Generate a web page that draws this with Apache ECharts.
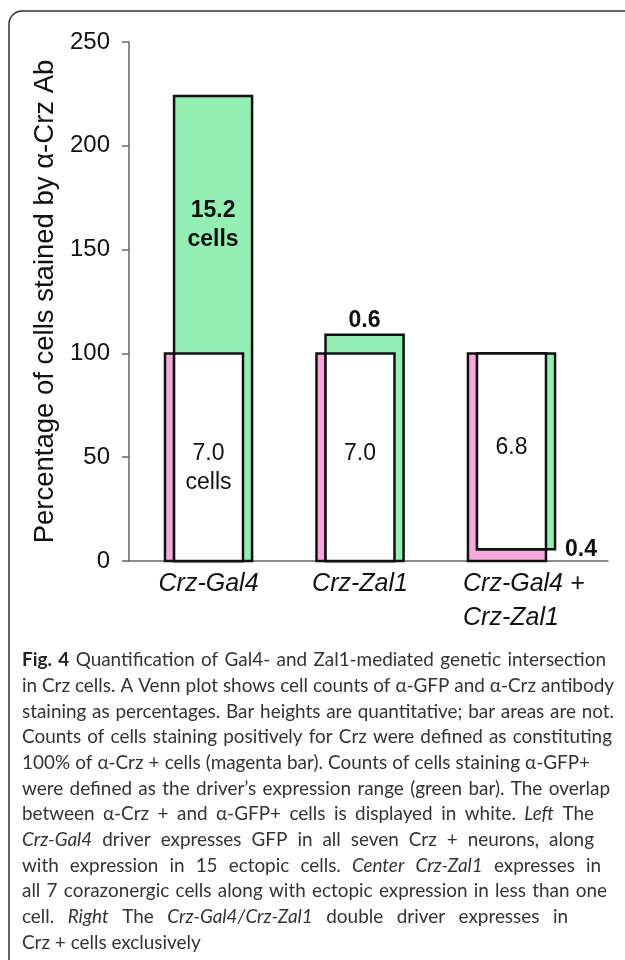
<!DOCTYPE html>
<html>
<head>
<meta charset="utf-8">
<title>Fig. 4</title>
<script src="https://cdn.jsdelivr.net/npm/echarts@6/dist/echarts.min.js"></script>
<style>
    html, body { margin: 0; padding: 0; background: #fff; }
    #chart { width: 625px; height: 960px; }
</style>
</head>
<body>
<div id="chart"></div>
<script>
    'use strict';

    // 数据
    var categories = ['Crz-Gal4', 'Crz-Zal1', 'Crz-Gal4 +\nCrz-Zal1'];
    var crzLow = [0, 0, 0];           // magenta bar (α-Crz+)
    var crzHigh = [100, 100, 100];
    var gfpLow = [0, 0, 5.7];         // green bar (α-GFP+)
    var gfpHigh = [224, 109, 100];
    var overlapText = ['7.0\ncells', '7.0', '6.8'];
    var extraText = ['15.2\ncells', '0.6', '0.4'];
    var yTicks = [0, 50, 100, 150, 200, 250];

    // caption, one entry per printed line ({b|..} bold, {i|..} italic)
    var captionLines = [
        '{b|Fig. 4} Quantification of Gal4- and Zal1-mediated genetic intersection',
        'in Crz cells. A Venn plot shows cell counts of α-GFP and α-Crz antibody',
        'staining as percentages. Bar heights are quantitative; bar areas are not.',
        'Counts of cells staining positively for Crz were defined as constituting',
        '100% of α-Crz + cells (magenta bar). Counts of cells staining α-GFP+',
        'were defined as the driver’s expression range (green bar). The overlap',
        'between α-Crz + and α-GFP+ cells is displayed in white. {i|Left} The',
        '{i|Crz-Gal4} driver expresses GFP in all seven Crz + neurons, along',
        'with expression in 15 ectopic cells. {i|Center Crz-Zal1} expresses in',
        'all 7 corazonergic cells along with ectopic expression in less than one',
        'cell. {i|Right} The {i|Crz-Gal4/Crz-Zal1} double driver expresses in',
        'Crz + cells exclusively'
    ];
    // right edge of each justified caption line (null = ragged)
    var captionRight = [606, 614, 614, 612, 590, 610, 594, 594, 601, 607, 568, null];

    var PINK = '#f8a8da';
    var GREEN = '#93efb3';
    var BAR_W = 0.515;   // bar width as fraction of category spacing
    var SHIFT = 0.03;    // horizontal offset between magenta and green bars
    var AXIS_FONT = 'Liberation Sans, Arial, sans-serif';
    var CAPTION_FONT = 'Lato, sans-serif';
    var CAPTION_COLOR = '#333';
    var CAPTION_LEFT = 22;
    var CAPTION_TOP = 660;
    var CAPTION_LINE = 25.7;

    var measureCtx = document.createElement('canvas').getContext('2d');

    function fontFor(kind, size) {
        if (kind === 'b') return 'bold ' + size + 'px ' + CAPTION_FONT;
        if (kind === 'i') return 'italic ' + size + 'px ' + CAPTION_FONT;
        return size + 'px ' + CAPTION_FONT;
    }

    // caption font size chosen so the second line fills the text block
    function fitCaptionSize() {
        measureCtx.font = fontFor('', 20);
        var w = measureCtx.measureText(captionLines[1]).width;
        return 20 * 591 / w;
    }

    // split a marked-up line into words, each with its style kind
    function lineWords(line) {
        var words = [];
        var spaceBefore = true;
        var re = /\{(b|i)\|([^}]*)\}|([^{]+)/g;
        var m;
        while ((m = re.exec(line)) !== null) {
            var kind = m[1] || '';
            var txt = m[1] ? m[2] : m[3];
            txt.split(' ').forEach(function (p, k) {
                if (k > 0) spaceBefore = true;
                if (p === '') return;
                words.push({ text: p, kind: kind, glue: !spaceBefore && words.length > 0 });
                spaceBefore = false;
            });
        }
        return words;
    }

    function captionGraphics(size) {
        var out = [];
        measureCtx.font = fontFor('', size);
        var spaceW = measureCtx.measureText(' ').width;
        captionLines.forEach(function (line, k) {
            var words = lineWords(line);
            var total = 0, gaps = 0;
            words.forEach(function (w, j) {
                measureCtx.font = fontFor(w.kind, size);
                w.width = measureCtx.measureText(w.text).width;
                total += w.width;
                if (j > 0 && !w.glue) gaps++;
            });
            var gap = spaceW;
            if (captionRight[k] !== null && gaps > 0) {
                gap = Math.max(spaceW, (captionRight[k] - CAPTION_LEFT - total) / gaps);
            }
            var x = CAPTION_LEFT;
            words.forEach(function (w, j) {
                if (j > 0 && !w.glue) x += gap;
                out.push({
                    type: 'text',
                    x: x,
                    y: CAPTION_TOP + k * CAPTION_LINE,
                    silent: true,
                    style: {
                        text: w.text,
                        font: fontFor(w.kind, size),
                        fill: w.kind === 'b' ? '#222' : CAPTION_COLOR,
                        verticalAlign: 'middle'
                    }
                });
                x += w.width;
            });
        });
        return out;
    }

    var chart = echarts.init(document.getElementById('chart'), null, { renderer: 'canvas' });

    function rectSeries(name, low, high, fill, side) {
        return {
            name: name,
            type: 'custom',
            data: low.map(function (v, i) { return [i, v, high[i]]; }),
            renderItem: function (params, api) {
                var i = api.value(0);
                var p0 = api.coord([i, api.value(1)]);
                var p1 = api.coord([i, api.value(2)]);
                var unit = api.size([1, 0])[0];
                var w = unit * BAR_W;
                var x = p0[0] - w / 2 + side * unit * SHIFT;
                return {
                    type: 'rect',
                    shape: { x: x, y: p1[1], width: w, height: p0[1] - p1[1] },
                    style: { fill: fill, stroke: '#111', lineWidth: 2.5 }
                };
            },
            z: 3
        };
    }

    // white overlap of the two bars
    function overlapSeries() {
        return {
            name: 'overlap',
            type: 'custom',
            data: crzLow.map(function (v, i) {
                return [i, Math.max(v, gfpLow[i]), Math.min(crzHigh[i], gfpHigh[i])];
            }),
            renderItem: function (params, api) {
                var i = api.value(0);
                var p0 = api.coord([i, api.value(1)]);
                var p1 = api.coord([i, api.value(2)]);
                var unit = api.size([1, 0])[0];
                var w = unit * BAR_W;
                var x0 = p0[0] - w / 2 + unit * SHIFT;
                var x1 = p0[0] + w / 2 - unit * SHIFT;
                var mid = (p0[1] + p1[1]) / 2;
                return {
                    type: 'group',
                    children: [{
                        type: 'rect',
                        shape: { x: x0, y: p1[1], width: x1 - x0, height: p0[1] - p1[1] },
                        style: { fill: '#fff', stroke: '#111', lineWidth: 2.5 }
                    }, {
                        type: 'text',
                        x: (x0 + x1) / 2,
                        y: mid - 18,
                        style: {
                            text: overlapText[i],
                            fill: '#111',
                            font: '23px ' + AXIS_FONT,
                            lineHeight: 29,
                            align: 'center',
                            verticalAlign: 'top'
                        }
                    }]
                };
            },
            z: 5
        };
    }

    // counts outside the overlap (ectopic GFP or Crz-only cells)
    function extraLabelSeries() {
        return {
            name: 'extra',
            type: 'custom',
            data: gfpHigh.map(function (v, i) { return [i, v, gfpLow[i], crzHigh[i]]; }),
            renderItem: function (params, api) {
                var i = api.value(0);
                var top = api.coord([i, api.value(1)]);
                var bottom = api.coord([i, api.value(2)]);
                var crzTop = api.coord([i, api.value(3)]);
                var unit = api.size([1, 0])[0];
                var w = unit * BAR_W;
                var cx = top[0] + unit * SHIFT;
                var style = {
                    text: extraText[i],
                    fill: '#111',
                    font: 'bold 23px ' + AXIS_FONT,
                    lineHeight: 29,
                    align: 'center',
                    verticalAlign: 'middle'
                };
                var x = cx, y;
                var excess = crzTop[1] - top[1];
                if (excess > 60) {
                    y = (crzTop[1] + top[1]) / 2;
                } else if (excess > 0) {
                    y = top[1] - 14;
                } else {
                    x = cx + w / 2 + 10;
                    y = bottom[1];
                    style.align = 'left';
                }
                return { type: 'text', x: x, y: y, style: style };
            },
            z: 6
        };
    }

    var option = {
        backgroundColor: '#fff',
        animation: false,
        grid: { left: 129, right: 17, top: 42, bottom: 399, containLabel: false },
        xAxis: {
            type: 'value',
            min: -0.525,
            max: 2.637,
            splitLine: { show: false },
            axisLine: { show: true, onZero: false, lineStyle: { color: '#666', width: 1.5 } },
            axisTick: { show: false },
            axisLabel: {
                customValues: [0, 1, 2],
                margin: 6,
                color: '#111',
                fontFamily: AXIS_FONT,
                fontStyle: 'italic',
                fontSize: 25,
                lineHeight: 34,
                formatter: function (v) {
                    var name = categories[Math.round(v)];
                    if (name.indexOf('\n') < 0) return name;
                    return name.split('\n').map(function (s) { return '{l|' + s + '}'; }).join('\n');
                },
                rich: {
                    l: {
                        width: 124, align: 'left', padding: [0, 0, 0, 27],
                        fontFamily: AXIS_FONT, fontStyle: 'italic', fontSize: 25, lineHeight: 34, color: '#111'
                    }
                }
            }
        },
        yAxis: {
            type: 'value',
            min: 0,
            max: 250,
            interval: 50,
            name: 'Percentage of cells stained by α-Crz Ab',
            nameLocation: 'middle',
            nameGap: 67,
            nameTextStyle: { color: '#111', fontFamily: AXIS_FONT, fontSize: 27.5 },
            splitLine: { show: false },
            axisLine: { show: true, onZero: false, lineStyle: { color: '#666', width: 1.5 } },
            axisTick: { show: true, length: 7, lineStyle: { color: '#666', width: 1.5 } },
            axisLabel: {
                margin: 19,
                color: '#111',
                fontFamily: AXIS_FONT,
                fontSize: 24,
                padding: [0, 0, 7, 0],
                formatter: function (v) { return yTicks.indexOf(v) >= 0 ? String(v) : ''; }
            }
        },
        graphic: [{
            type: 'rect',
            shape: { x: 9, y: 11, width: 700, height: 1000, r: 13 },
            style: { fill: 'none', stroke: '#333', lineWidth: 1.5 },
            silent: true
        }].concat(captionGraphics(fitCaptionSize())),
        series: [
            rectSeries('α-Crz', crzLow, crzHigh, PINK, -1),
            rectSeries('α-GFP', gfpLow, gfpHigh, GREEN, 1),
            overlapSeries(),
            extraLabelSeries()
        ]
    };

    chart.setOption(option);
</script>
</body>
</html>
